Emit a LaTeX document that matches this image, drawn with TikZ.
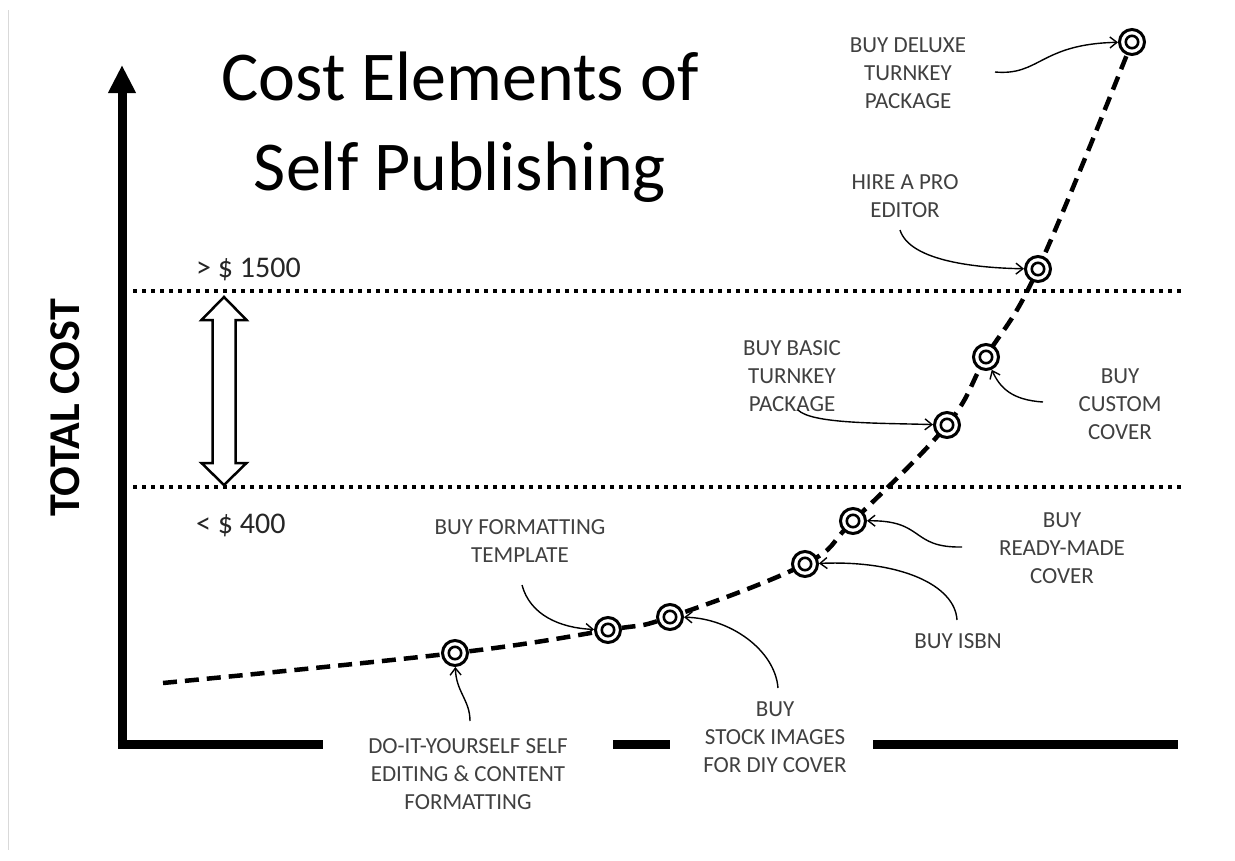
\documentclass[tikz,border=0pt]{standalone}
\usepackage{fontspec}
\setmainfont{Carlito}
\usetikzlibrary{arrows.meta}
\pgfdeclarelayer{bg}
\pgfsetlayers{bg,main}
\begin{document}
\begin{tikzpicture}[x=1pt,y=-1pt,
  lbl/.style={align=center, text=black!75, font=\fontsize{23}{28}\selectfont, inner sep=0pt},
  target/.style={circle, draw=black, line width=3pt, fill=white, minimum size=25pt, inner sep=0pt},
  pointer/.style={line width=1.4pt, -{Straight Barb[length=7pt,width=11pt]}},
  axis/.style={line width=9pt},
  level/.style={line width=4pt, dash pattern=on 4pt off 5pt},
  costcurve/.style={line width=4.5pt, dash pattern=on 14pt off 8pt},
  bound/.style={text=black!85, font=\fontsize{30}{30}\selectfont, anchor=base west, inner sep=0pt}]
\useasboundingbox (0,0) rectangle (1235,860);
\begin{pgfonlayer}{bg}
\fill[white] (0,0) rectangle (1235,860);
\end{pgfonlayer}
\draw[black!15, line width=1pt] (8,10) -- (8,850);

% title
\node[font=\fontsize{70}{70}\selectfont, anchor=base, inner sep=0pt] (title1) at (460,100) {Cost Elements of};
\node[font=\fontsize{70}{70}\selectfont, anchor=base, inner sep=0pt] (title2) at (460,190) {Self Publishing};

% axes
\coordinate (corner) at (122,744);
\coordinate (ytop) at (122,65);
\draw[axis, -{Triangle[length=28pt,width=26pt]}] (122,748.5) -- (ytop);
\coordinate (xa1) at (117.5,744); \coordinate (xa2) at (323,744);
\coordinate (xb1) at (613,744);   \coordinate (xb2) at (670,744);
\coordinate (xc1) at (873,744);   \coordinate (xc2) at (1178,744);
\draw[axis] (xa1) -- (xa2);
\draw[axis] (xb1) -- (xb2);
\draw[axis] (xc1) -- (xc2);
\node[rotate=90, font=\bfseries\fontsize{44}{44}\selectfont, inner sep=0pt] (ylabel) at (65,408) {TOTAL COST};

% levels
\coordinate (hiL) at (133,291); \coordinate (hiR) at (1183,291);
\coordinate (loL) at (133,487); \coordinate (loR) at (1183,487);
\draw[level] (hiL) -- (hiR);
\draw[level] (loL) -- (loR);
\node[bound] (hi) at (196,277) {> \$ 1500};
\node[bound] (lo) at (196,533) {< \$ 400};

% hollow double arrow
\draw[line width=2.5pt, fill=white, line join=miter]
  (224,297) -- (246.5,320) -- (235.5,320) -- (235.5,463) -- (246.5,463) -- (224,485)
  -- (201.5,463) -- (212.5,463) -- (212.5,320) -- (201.5,320) -- cycle;

% targets
\node[target] (t1) at (455,653) {};
\node[target] (t2) at (608,630) {};
\node[target] (t3) at (670,617) {};
\node[target] (t4) at (805,564) {};
\node[target] (t5) at (853,521) {};
\node[target] (t6) at (947,425) {};
\node[target] (t7) at (986,357) {};
\node[target] (t8) at (1038,269) {};
\node[target] (t9) at (1132,42) {};
\foreach \n in {t1,t2,t3,t4,t5,t6,t7,t8,t9}
  \draw[line width=2.6pt] (\n.center) circle (6.2);

% cost curve
\coordinate (start) at (163,683);
\begin{pgfonlayer}{bg}
\draw[costcurve] plot[smooth, tension=0.65] coordinates {(start) (t1) (t2) (t3) (t4) (t5) (t6) (t7) (t8) (t9)};
\end{pgfonlayer}

% labels
\node[lbl] (l9) at (908,73) {BUY DELUXE\\TURNKEY\\PACKAGE};
\node[lbl] (l8) at (905,196) {HIRE A PRO\\EDITOR};
\node[lbl] (l6) at (792,376) {BUY BASIC\\TURNKEY\\PACKAGE};
\node[lbl] (l7) at (1120,404) {BUY\\CUSTOM\\COVER};
\node[lbl] (l5) at (1062,548) {BUY\\READY-MADE\\COVER};
\node[lbl] (l4) at (958,641) {BUY ISBN};
\node[lbl] (l3) at (775,737) {BUY\\STOCK IMAGES\\FOR DIY COVER};
\node[lbl] (l2) at (520,541) {BUY FORMATTING\\TEMPLATE};
\node[lbl] (l1) at (468,774) {DO-IT-YOURSELF SELF\\EDITING \& CONTENT\\FORMATTING};

% pointers
\coordinate (s9) at (995,72);
\coordinate (s8) at (900,230);
\coordinate (s6) at (798,410);
\coordinate (s7) at (1043,402);
\coordinate (s5) at (962,547);
\coordinate (s4) at (957,620);
\coordinate (s3) at (778,688);
\coordinate (s2) at (522,585);
\coordinate (s1) at (470,721);
\draw[pointer] (s9) .. controls (1040,76) and (1040,44) .. (t9);
\draw[pointer] (s8) .. controls (910,262) and (980,268) .. (t8);
\draw[pointer] (s6) .. controls (812,424) and (880,423) .. (t6);
\draw[pointer] (s7) .. controls (1012,400) and (1000,388) .. (t7);
\draw[pointer] (s5) .. controls (910,548) and (925,520) .. (t5);
\draw[pointer] (s4) .. controls (955,585) and (900,560) .. (t4);
\draw[pointer] (s3) .. controls (775,650) and (730,618) .. (t3);
\draw[pointer] (s2) .. controls (530,615) and (560,628) .. (t2);
\draw[pointer] (s1) .. controls (470,700) and (456,692) .. (t1);
\end{tikzpicture}
\end{document}
